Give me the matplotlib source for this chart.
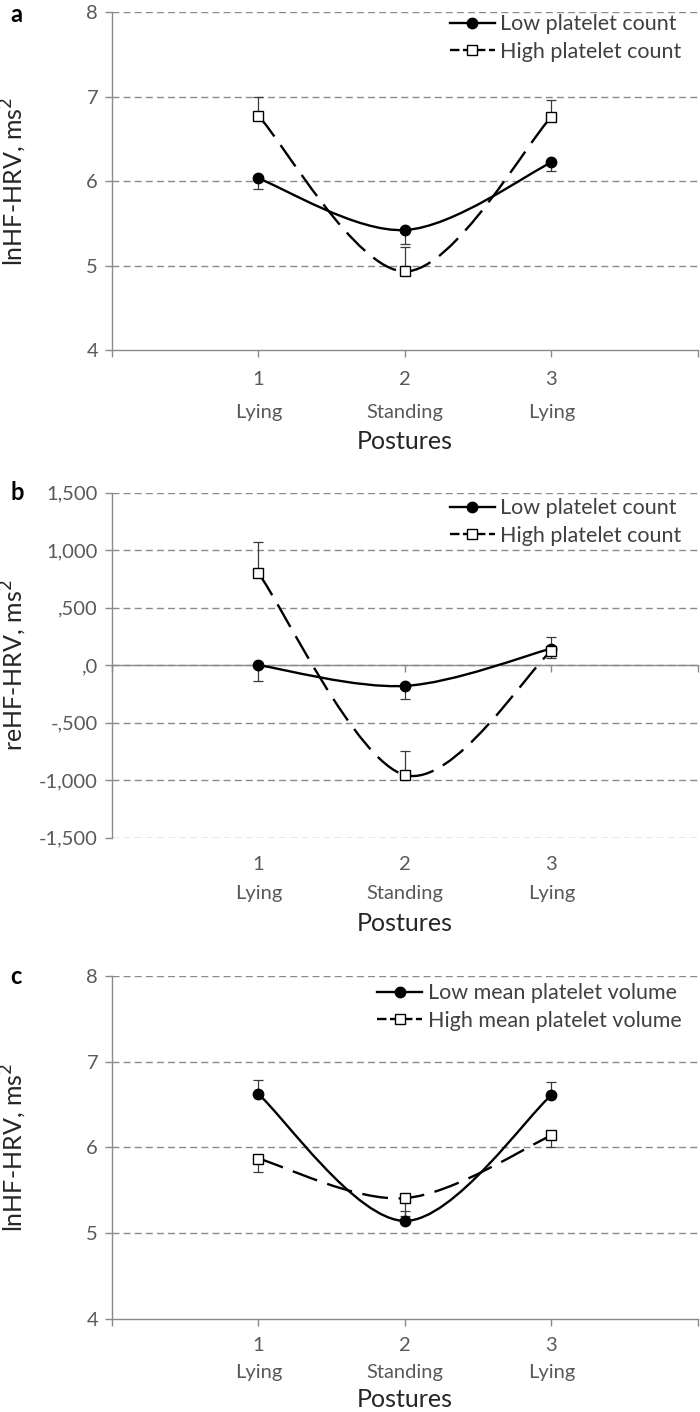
import numpy as np
import matplotlib
matplotlib.use("Agg")
import matplotlib.pyplot as plt
from matplotlib.path import Path
from matplotlib.patches import PathPatch
from matplotlib.lines import Line2D

plt.rcParams['font.family'] = ['Lato', 'DejaVu Sans']

# データ
postures_x = [1, 2, 3]
posture_names = ['Lying', 'Standing', 'Lying']

# a: lnHF-HRV by platelet count
a_low = [6.03, 5.42, 6.22]
a_low_err = [0.13, 0.17, 0.10]      # 下向き
a_high = [6.77, 4.93, 6.76]
a_high_err = [0.23, 0.29, 0.20]     # 上向き

# b: reHF-HRV by platelet count
b_low = [0.0, -0.18, 0.145]
b_low_err = [0.14, 0.11, 0.08]
b_high = [0.80, -0.955, 0.125]
b_high_err = [0.27, 0.21, 0.12]

# c: lnHF-HRV by mean platelet volume
c_low = [6.62, 5.145, 6.61]
c_low_err = [0.17, 0.12, 0.15]      # 上向き
c_high = [5.87, 5.41, 6.14]
c_high_err = [0.15, 0.21, 0.13]     # 下向き

ab_ticks = [4, 5, 6, 7, 8]
b_ticks = [-1.5, -1.0, -0.5, 0.0, 0.5, 1.0, 1.5]
b_ticklabels = ['-1,500', '-1,000', '-,500', ',0', ',500', '1,000', '1,500']

GRID = '#8a8a8a'
TXT = '#595959'


def smooth_path(xs, ys):
    # Excel風のスムージング（ベジェ曲線）
    pts = np.column_stack([xs, ys]).astype(float)
    n = len(pts)
    verts = [pts[0]]
    codes = [Path.MOVETO]
    for i in range(n - 1):
        p0 = pts[max(i - 1, 0)]
        p1 = pts[i]
        p2 = pts[i + 1]
        p3 = pts[min(i + 2, n - 1)]
        c1 = p1 + (p2 - p0) / 6.0
        c2 = p2 - (p3 - p1) / 6.0
        verts += [c1, c2, p2]
        codes += [Path.CURVE4] * 3
    return Path(verts, codes)


def draw_panel(ax, low, low_err, low_dir, high, high_err, high_dir,
               ylim, yticks, yticklabels, ylabel, labels, offsets, leg_y,
               zero_axis=None):
    ax.set_xlim(0, 4)
    ax.set_ylim(*ylim)
    ax.set_yticks(yticks)
    ax.set_yticklabels(yticklabels)
    ax.set_xticks([0, 1, 2, 3, 4])
    ax.set_xticklabels([])
    for s in ['top', 'right']:
        ax.spines[s].set_visible(False)
    for s in ['left', 'bottom']:
        ax.spines[s].set_color(GRID)
        ax.spines[s].set_linewidth(1.0)
    if zero_axis is not None:
        ax.spines['bottom'].set_position(('data', zero_axis))
    ax.tick_params(axis='both', direction='out', length=5, width=1.0,
                   color=GRID, labelcolor=TXT, labelsize=14.5)
    ax.tick_params(axis='y', pad=5)

    # 横の破線グリッド
    for t in yticks:
        if t == ylim[0] and zero_axis is None:
            continue
        ax.axhline(t, color=GRID, lw=1.0, ls=(0, (5, 3)), zorder=0)

    # 誤差棒（片側）
    def err(vals, e, direction):
        e = np.array(e)
        z = np.zeros_like(e)
        yerr = [e, z] if direction == 'down' else [z, e]
        ax.errorbar(postures_x, vals, yerr=yerr, fmt='none', ecolor='#3a3a3a',
                    elinewidth=0.9, capsize=3.5, capthick=0.9, zorder=2)

    err(low, low_err, low_dir)
    err(high, high_err, high_dir)

    ax.add_patch(PathPatch(smooth_path(postures_x, low), fill=False,
                           edgecolor='black', lw=1.7, zorder=3))
    ax.add_patch(PathPatch(smooth_path(postures_x, high), fill=False,
                           edgecolor='black', lw=1.7, ls=(0, (11, 4.5)),
                           zorder=3))
    ax.plot(postures_x, low, ls='none', marker='o', ms=7.5, mfc='black',
            mec='black', zorder=4)
    ax.plot(postures_x, high, ls='none', marker='s', ms=7, mfc='white',
            mec='black', mew=1.0, zorder=4)

    # x軸ラベル
    o_num, o_name, o_title = offsets
    for xv, name in zip(postures_x, posture_names):
        ax.annotate(str(xv), xy=(xv, 0), xycoords=('data', 'axes fraction'),
                    xytext=(0, -o_num), textcoords='offset points',
                    ha='center', va='center', fontsize=14.5, color=TXT)
        ax.annotate(name, xy=(xv, 0), xycoords=('data', 'axes fraction'),
                    xytext=(0, -o_name), textcoords='offset points',
                    ha='center', va='center', fontsize=14.5, color=TXT)
    ax.annotate('Postures', xy=(2, 0), xycoords=('data', 'axes fraction'),
                xytext=(0, -o_title), textcoords='offset points',
                ha='center', va='center', fontsize=18, color='#262626')

    ax.set_ylabel(ylabel, fontsize=18, color='#262626', va='center')
    ax.yaxis.set_label_coords(-0.168, 0.5)

    handles = [
        Line2D([], [], color='black', lw=1.7, marker='o', ms=7.5, mfc='black'),
        Line2D([], [], color='black', lw=1.7, ls=(0, (4, 1.5)), marker='s',
               ms=7, mfc='white', mew=1.0),
    ]
    ax.legend(handles, labels, loc='upper right', bbox_to_anchor=(1.005, leg_y),
              frameon=False, fontsize=15.5, handlelength=2.1, handletextpad=0.25,
              labelspacing=0.35, labelcolor='#404040')


fig = plt.figure(figsize=(7.0, 14.12), dpi=100)
ax_a = fig.add_axes([0.16, 0.7521, 0.837, 0.2394])
ax_b = fig.add_axes([0.16, 0.4067, 0.837, 0.2444])
ax_c = fig.add_axes([0.16, 0.0657, 0.837, 0.2433])

draw_panel(ax_a, a_low, a_low_err, 'down', a_high, a_high_err, 'up',
           (4, 8), ab_ticks, [str(t) for t in ab_ticks], 'lnHF-HRV, ms$^2$',
           ['Low platelet count', 'High platelet count'], (21, 45, 66), 1.05)
draw_panel(ax_b, b_low, b_low_err, 'down', b_high, b_high_err, 'up',
           (-1.5, 1.5), b_ticks, b_ticklabels, 'reHF-HRV, ms$^2$',
           ['Low platelet count', 'High platelet count'], (19.5, 40, 62),
           1.04, zero_axis=0.0)
draw_panel(ax_c, c_low, c_low_err, 'up', c_high, c_high_err, 'down',
           (4, 8), ab_ticks, [str(t) for t in ab_ticks], 'lnHF-HRV, ms$^2$',
           ['Low mean platelet volume', 'High mean platelet volume'],
           (19, 38.5, 58), 1.035)

for letter, ypix in [('a', 15), ('b', 493), ('c', 976)]:
    fig.text(10 / 700, 1 - ypix / 1412, letter, fontsize=17, fontweight='bold',
             ha='left', va='center')

plt.savefig('out.png', dpi=100)
